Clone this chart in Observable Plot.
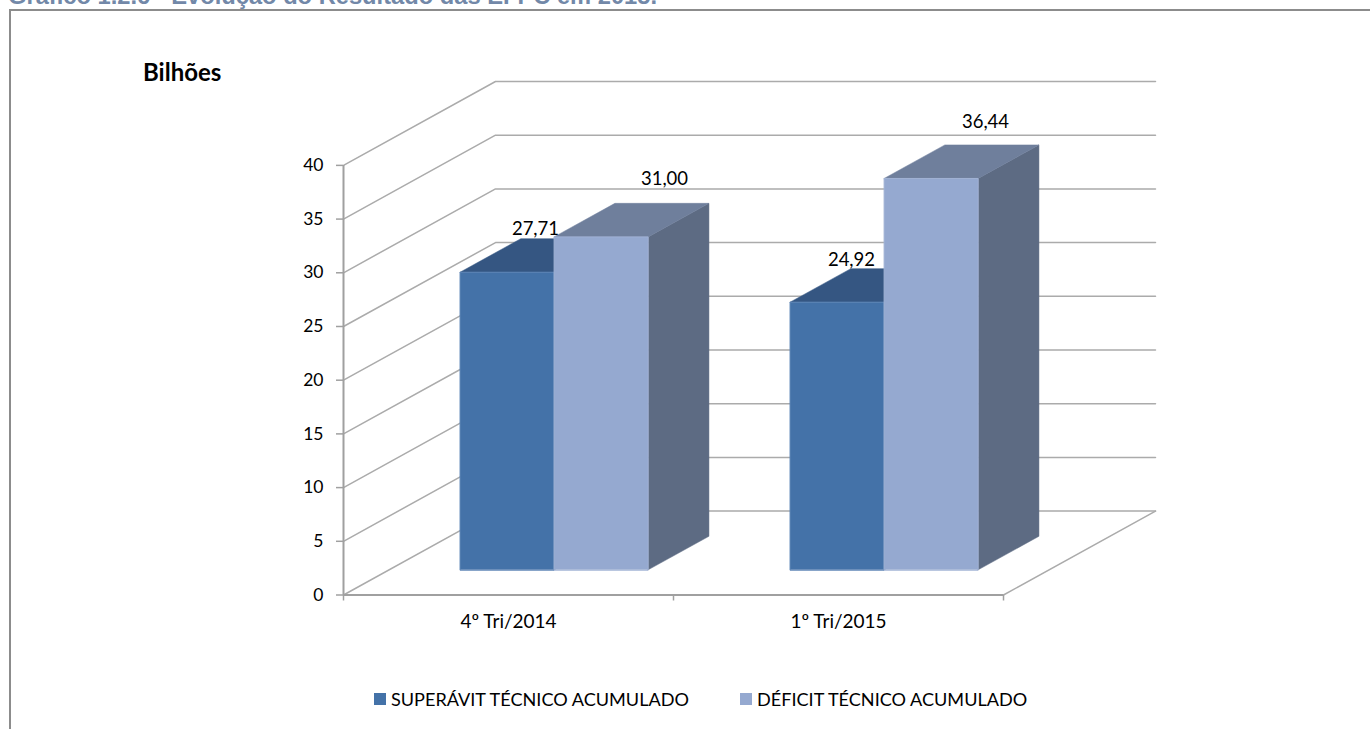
<!DOCTYPE html>
<html lang="pt">
<head>
<meta charset="utf-8">
<script src="https://cdn.jsdelivr.net/npm/d3@7"></script>
<script src="https://cdn.jsdelivr.net/npm/@observablehq/plot@0.6"></script>
<style>
  html, body { margin: 0; padding: 0; background: #fff; width: 1370px; height: 729px; overflow: hidden; }
  #page { position: relative; width: 1370px; height: 729px; overflow: hidden; }
  #title { position: absolute; left: 8px; top: -17px; font: bold 23.7px/27px "Liberation Sans", Arial, sans-serif; color: #7288a8; white-space: nowrap; }
  #frame { position: absolute; left: 9px; top: 9px; width: 1361px; height: 720px; box-sizing: border-box; border-left: 2px solid #8c8c8c; border-top: 2px solid #8c8c8c; }
  #chart { position: absolute; left: 0; top: 0; }
  #chart svg { display: block; }
  #unit { position: absolute; left: 143px; top: 57px; font: bold 24px/30px Lato, "Open Sans", sans-serif; color: #000; }
  #legend { position: absolute; top: 688px; left: 0; width: 1370px; height: 22px; font: 18.1px/22px Lato, "Open Sans", sans-serif; color: #000; }
  #legend span { position: absolute; white-space: nowrap; }
  #legend i { position: absolute; top: 5px; width: 12px; height: 12px; display: block; }
</style>
</head>
<body>
<div id="page">
  <div id="title"></div>
  <div id="frame"></div>
  <div id="chart"></div>
  <div id="unit"></div>
  <div id="legend"></div>
</div>
<script>
const titleText = "Gráfico 1.2.6 - Evolução do Resultado das EFPC em 2015.";
const unitText = "Bilhões";
const categories = ["4º Tri/2014", "1º Tri/2015"];
const seriesNames = ["SUPERÁVIT TÉCNICO ACUMULADO", "DÉFICIT TÉCNICO ACUMULADO"];
const superavit = [27.71, 24.92];
const deficit = [31.00, 36.44];
const yTicks = [0, 5, 10, 15, 20, 25, 30, 35, 40];

const seriesValues = [superavit, deficit];
const palette = [
  {front: "#4472a8", top: "#355682", side: "#2f4c73", edge: "#5a83b5"},
  {front: "#95a9d0", top: "#6f7f9c", side: "#5d6b83", edge: "#a0b2d4"}
];

// Oblique projection of the 3D box: depth shifts a point right and up, in scale units.
const depthX = 0.4606, depthY = 7.81;
const gapWidth = 0.215, barWidth = 0.285, depthFront = 0.3, depthBack = 0.7;
const project = (x, v, d) => ({x: x + d * depthX, y: v + d * depthY});

const grid = yTicks.map(v => [project(0, v, 0), project(0, v, 1), project(2, v, 1)]);
const floorEdge = [project(2, 0, 0), project(2, 0, 1)];

const faces = [];
const labels = [];
const nudges = [[-2, -26], [33, -41], [-16, -25], [24, -40]];
categories.forEach((c, i) => {
  seriesValues.forEach((vals, j) => {
    const v = vals[i];
    const x0 = i + gapWidth + j * barWidth, x1 = x0 + barWidth;
    const p = palette[j];
    faces.push({fill: p.side, pts: [project(x1, 0, depthFront), project(x1, 0, depthBack), project(x1, v, depthBack), project(x1, v, depthFront)]});
    faces.push({fill: p.top, pts: [project(x0, v, depthFront), project(x0, v, depthBack), project(x1, v, depthBack), project(x1, v, depthFront)]});
    faces.push({fill: p.front, stroke: p.edge, pts: [project(x0, 0, depthFront), project(x0, v, depthFront), project(x1, v, depthFront), project(x1, 0, depthFront)]});
    labels.push({...project((x0 + x1) / 2, v, 0.5), text: v.toFixed(2).replace(".", ","), nudge: nudges[labels.length]});
  });
});

const textFont = "Lato";
const plot = Plot.plot({
  width: 1370,
  height: 729,
  marginLeft: 343,
  marginRight: 215,
  marginTop: 81,
  marginBottom: 134.5,
  style: {background: "transparent", fontFamily: textFont, overflow: "visible"},
  x: {type: "linear", domain: [0, 2 + depthX], label: null, axis: null},
  y: {type: "linear", domain: [0, 40 + depthY], label: null, axis: null},
  marks: [
    grid.map(g => Plot.line(g, {x: "x", y: "y", stroke: "#ababab", strokeWidth: 1.5})),
    Plot.line(floorEdge, {x: "x", y: "y", stroke: "#ababab", strokeWidth: 1.5}),
    faces.map(f => Plot.line(f.pts, {x: "x", y: "y", curve: "linear-closed", fill: f.fill, stroke: f.stroke || f.fill, strokeWidth: f.stroke ? 1 : 0.5})),
    Plot.ruleX([0], {y1: 0, y2: 40, stroke: "#a0a0a0", strokeWidth: 2}),
    Plot.ruleY([0], {x1: 0, x2: 2, stroke: "#a0a0a0", strokeWidth: 2}),
    Plot.axisY({ticks: yTicks, anchor: "left", tickSize: 7, tickPadding: 13, stroke: "#a0a0a0", strokeWidth: 1.5, strokeOpacity: 1, label: null, fontSize: 17.5, fontFamily: textFont, fill: "#000"}),
    Plot.axisX({ticks: [0, 1, 2], anchor: "bottom", tickSize: 6, tickPadding: 0, stroke: "#a0a0a0", strokeWidth: 1.5, strokeOpacity: 1, tickFormat: () => "", label: null}),
    Plot.text(categories, {x: (d, i) => i + 0.5, y: 0, dy: 27, text: d => d, fontSize: 19, fontFamily: textFont, fill: "#000"}),
    labels.map(l => Plot.text([l], {x: "x", y: "y", text: "text", dx: l.nudge[0], dy: l.nudge[1], fontSize: 18.5, fontFamily: textFont, fill: "#000"}))
  ]
});
document.getElementById("chart").append(plot);
document.getElementById("title").textContent = titleText;
document.getElementById("unit").textContent = unitText;
const legend = document.getElementById("legend");
[[374, 391], [740, 757]].forEach(([sx, tx], j) => {
  const sw = document.createElement("i");
  sw.style.left = sx + "px";
  sw.style.background = palette[j].front;
  const t = document.createElement("span");
  t.style.left = tx + "px";
  t.textContent = seriesNames[j];
  legend.append(sw, t);
});
</script>
</body>
</html>
